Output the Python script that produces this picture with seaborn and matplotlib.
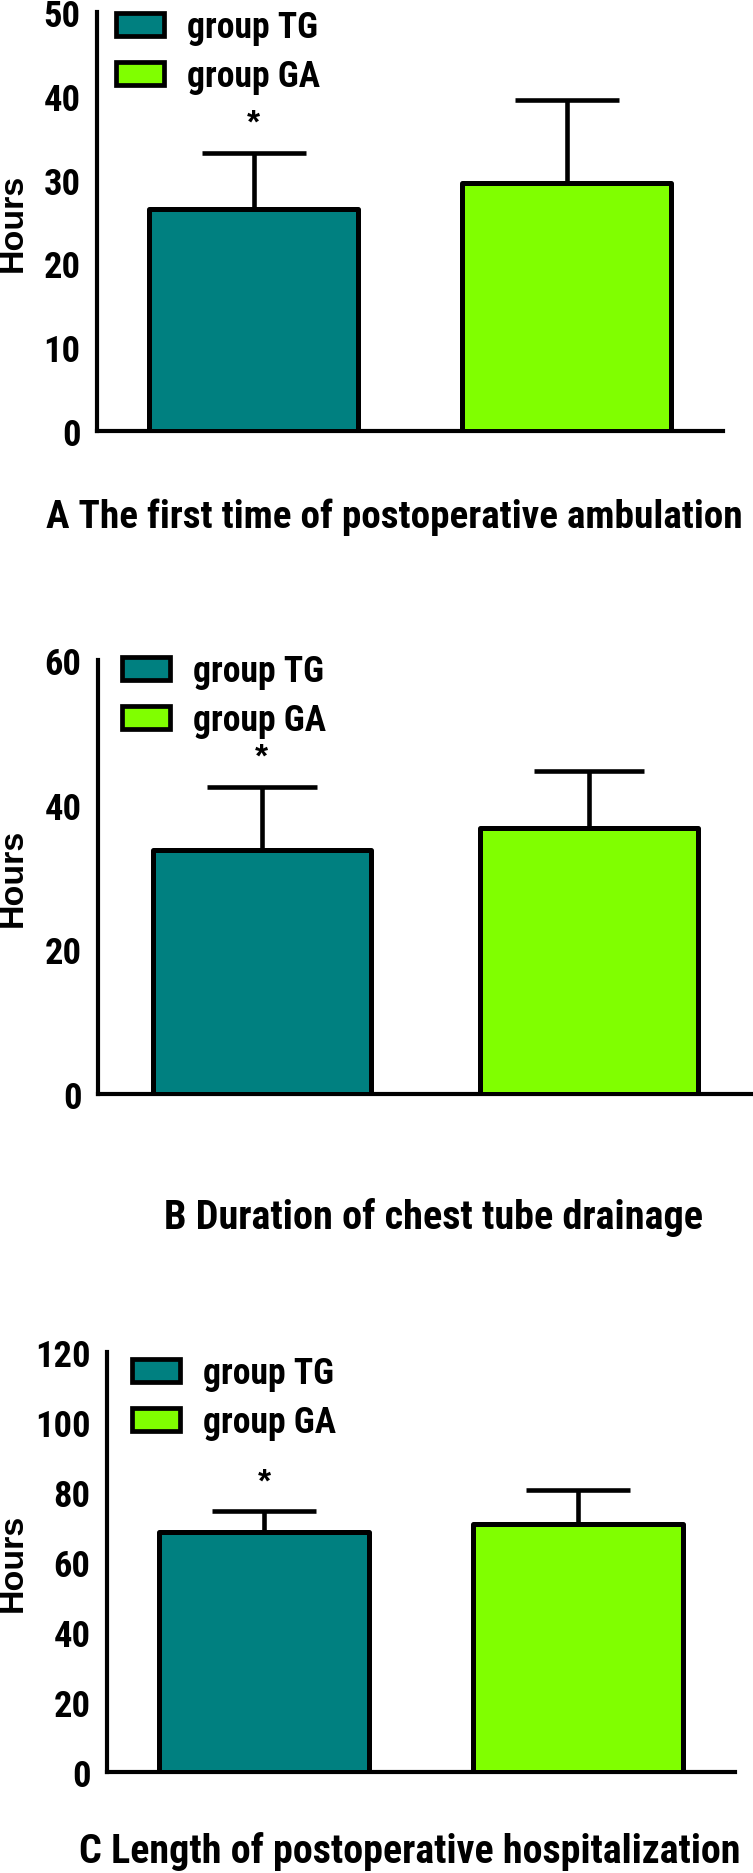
import matplotlib
matplotlib.use("Agg")
import matplotlib.pyplot as plt
import seaborn as sns
import pandas as pd
from matplotlib.patches import Patch
from matplotlib import font_manager as fm

# ---------------- data ----------------
groups = ["group TG", "group GA"]
colors = ["#008080", "#80FF00"]

ambulation_mean = [26.5, 29.6]
ambulation_sd = [6.7, 9.9]
drainage_mean = [33.7, 36.8]
drainage_sd = [8.8, 7.9]
hospital_mean = [68.6, 70.9]
hospital_sd = [6.0, 9.7]

yticks_A = [0, 10, 20, 30, 40, 50]
yticks_B = [0, 20, 40, 60]
yticks_C = [0, 20, 40, 60, 80, 100, 120]

significant = [True, False]
titles = ["A The first time of postoperative ambulation",
          "B Duration of chest tube drainage",
          "C Length of postoperative hospitalization"]
ylabel = "Hours"

# ---------------- style ----------------
sns.set_style("white")
plt.rcParams["font.family"] = ["Liberation Sans", "DejaVu Sans"]
plt.rcParams["font.weight"] = "bold"
for k in ("text.color", "axes.labelcolor", "xtick.color", "ytick.color"):
    plt.rcParams[k] = "black"

# pick a narrow/condensed sans if one is installed, otherwise Liberation Sans
available = {f.name for f in fm.fontManager.ttflist}
NARROW_FAMILY = ["Liberation Sans", "DejaVu Sans"]
NARROW_STRETCH = "normal"
for cand in ["Liberation Sans Narrow", "Arial Narrow", "Roboto Condensed",
             "Noto Sans Condensed", "Open Sans Condensed"]:
    if cand in available:
        NARROW_FAMILY = [cand, "DejaVu Sans"]
        break
else:
    for f in fm.fontManager.ttflist:
        if f.name in ("Liberation Sans", "Noto Sans", "Roboto", "Open Sans") and \
                str(f.stretch) in ("condensed", "semi-condensed", "600", "700"):
            NARROW_FAMILY = [f.name, "DejaVu Sans"]
            NARROW_STRETCH = "condensed"
            break

W, H = 753, 1874
DPI = 100
fig = plt.figure(figsize=(W / DPI, H / DPI), dpi=DPI)
PX2PT = 72 / DPI
renderer = fig.canvas.get_renderer()

# fit the title font size to the widths seen in the reference
title_pos = [(46, 528), (164, 1229), (79, 1863)]
title_width = [700, 541, 664]
ratios = []
for ttl, (tx, ty), tw in zip(titles, title_pos, title_width):
    txt = fig.text(tx / W, 1 - ty / H, ttl, ha="left", va="baseline",
                   fontsize=24, fontweight="bold", family=NARROW_FAMILY,
                   stretch=NARROW_STRETCH)
    w = txt.get_window_extent(renderer).width
    size = 24 * tw / w
    txt.set_fontsize(size)
    ratios.append(size / 24)
NS = sum(ratios) / len(ratios)


def panel(rect, means, sds, yticks, mode, leg_top):
    l, t, r, b = rect
    ax = fig.add_axes([l / W, (H - b) / H, (r - l) / W, (b - t) / H])
    if mode == "single":
        df = pd.DataFrame({"cond": [""] * len(groups), "group": groups, "hours": means})
        sns.barplot(data=df, x="cond", y="hours", hue="group", hue_order=groups,
                    palette=colors, saturation=1, width=1.0, gap=1 / 3,
                    edgecolor="black", linewidth=3.6, errorbar=None,
                    legend=False, ax=ax, zorder=3)
        ax.set_xlim(-0.5, 0.5)
        ax.set_xticks([0], [""])
    else:
        df = pd.DataFrame({"group": groups, "hours": means})
        sns.barplot(data=df, x="group", y="hours", hue="group", order=groups,
                    hue_order=groups, palette=colors, saturation=1, width=2 / 3,
                    edgecolor="black", linewidth=3.6, errorbar=None,
                    legend=False, ax=ax, zorder=3)
        ax.set_xlim(-0.5, 1.5)
        ax.set_xticks([0, 1], ["", ""])

    bars = sorted(ax.patches, key=lambda p: p.get_x())
    span = ax.get_xlim()[1] - ax.get_xlim()[0]
    for p, m, s, sig in zip(bars, means, sds, significant):
        p.set_joinstyle("round")
        cx = p.get_x() + p.get_width() / 2
        bw_px = p.get_width() * (r - l) / span
        ax.errorbar([cx], [m], yerr=[[0], [s]], fmt="none", ecolor="black",
                    elinewidth=3.3, capsize=bw_px / 4 * PX2PT, capthick=3.3,
                    zorder=2)
        if sig:
            ax.annotate("*", xy=(cx, m + s), xytext=(0, 15),
                        textcoords="offset points", ha="center",
                        va="baseline", fontsize=24, fontweight="bold")

    ax.set_ylim(0, yticks[-1])
    ax.set_yticks(yticks)
    ax.set_xlabel("")
    ax.set_ylabel("")
    sns.despine(ax=ax)
    for side in ("left", "bottom"):
        ax.spines[side].set_linewidth(3)
        ax.spines[side].set_color("black")
    ax.tick_params(axis="both", direction="out", length=8.5, width=3,
                   color="black", pad=3.5, labelcolor="black")
    for lab in ax.get_yticklabels():
        lab.set_fontweight("bold")
        lab.set_fontsize(22 * NS)
        lab.set_family(NARROW_FAMILY)
        lab.set_stretch(NARROW_STRETCH)

    handles = [Patch(facecolor=c, edgecolor="black", linewidth=3.4,
                     joinstyle="round", label=g) for c, g in zip(colors, groups)]
    lx, ly = leg_top
    fs = 21.5 * NS
    fsp = fs / PX2PT
    ax.legend(handles=handles, loc="upper left",
              bbox_to_anchor=((lx - l) / (r - l), 1 + (t - ly) / (b - t)),
              frameon=False, borderpad=0, borderaxespad=0,
              handlelength=48 / fsp, handleheight=23 / fsp,
              handletextpad=23 / fsp, labelspacing=13 / fsp,
              prop=fm.FontProperties(family=NARROW_FAMILY,
                                     stretch=NARROW_STRETCH,
                                     size=fs, weight="bold"))

    fig.text(13 / W, 1 - ((t + b) / 2) / H, ylabel, rotation=90, ha="center",
             va="center", fontsize=24.5, fontweight="bold")
    return ax


panel((97, 13, 723, 432), ambulation_mean, ambulation_sd, yticks_A, "single",
      (116, 10))
panel((98, 661, 753, 1095), drainage_mean, drainage_sd, yticks_B, "single",
      (122, 654))
panel((107, 1353, 735, 1773), hospital_mean, hospital_sd, yticks_C, "pair",
      (132, 1356))

fig.savefig("out.png", dpi=DPI)
